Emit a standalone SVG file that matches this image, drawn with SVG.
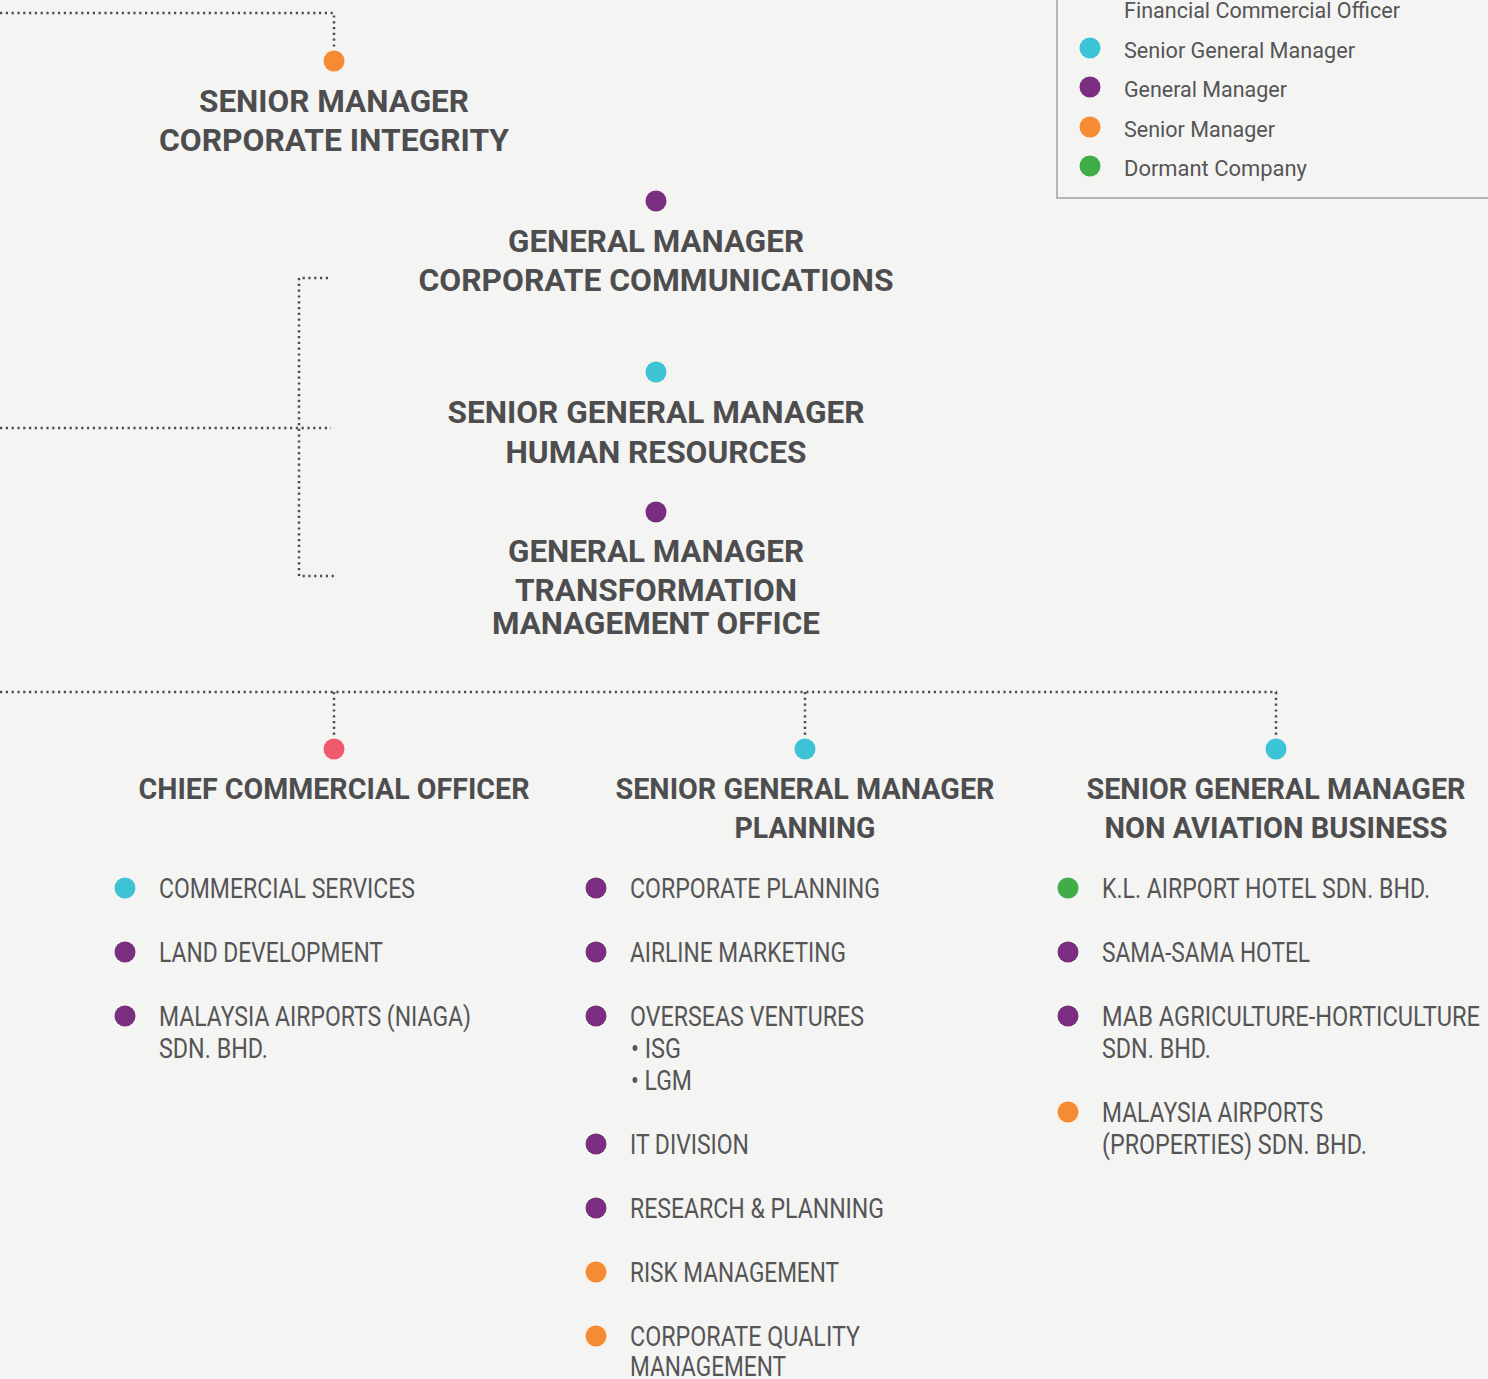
<svg xmlns="http://www.w3.org/2000/svg" width="1488" height="1379" viewBox="0 0 1488 1379">
<style>
.bg{fill:#f4f4f2}
.ln{fill:none;stroke:#4d4d4f;stroke-width:2.5;stroke-dasharray:2.2 3.6}
.h1{font-family:Roboto,"Liberation Sans",sans-serif;font-weight:700;font-size:31px;fill:#4d4d4f;text-anchor:middle}
.h2{font-family:Roboto,"Liberation Sans",sans-serif;font-weight:700;font-size:29px;fill:#4d4d4f;text-anchor:middle}
.it{font-family:Roboto,"Liberation Sans",sans-serif;font-weight:400;font-size:27px;fill:#555557}
.lg{font-family:Roboto,"Liberation Sans",sans-serif;font-weight:400;font-size:22px;fill:#555557}
.cy{fill:#3cc3d6}.pu{fill:#7b2d7f}.or{fill:#f68b33}.gr{fill:#3fae49}.rd{fill:#f05a6e}
</style>
<rect class="bg" x="0" y="0" width="1488" height="1379"/>

<g id="connectors">
<path class="ln" d="M0 13 H334 V48"/>
<path class="ln" d="M0 428 H331"/>
<path class="ln" d="M328 278 H299 V576 H335"/>
<path class="ln" d="M0 692 H1277"/>
<path class="ln" d="M334 692 V737"/>
<path class="ln" d="M805 692 V737"/>
<path class="ln" d="M1276 692 V737"/>
</g>

<g id="legend">
<path d="M1057 0 V198 H1488" fill="none" stroke="#a0a0a0" stroke-width="1.5"/>
<text class="lg" x="1124" y="18" textLength="276" lengthAdjust="spacingAndGlyphs">Financial Commercial Officer</text>
<circle class="cy" cx="1090" cy="48" r="10.5"/>
<text class="lg" x="1124" y="58" textLength="231" lengthAdjust="spacingAndGlyphs">Senior General Manager</text>
<circle class="pu" cx="1090" cy="87" r="10.5"/>
<text class="lg" x="1124" y="97" textLength="163" lengthAdjust="spacingAndGlyphs">General Manager</text>
<circle class="or" cx="1090" cy="127" r="10.5"/>
<text class="lg" x="1124" y="137" textLength="151" lengthAdjust="spacingAndGlyphs">Senior Manager</text>
<circle class="gr" cx="1090" cy="166" r="10.5"/>
<text class="lg" x="1124" y="176" textLength="183" lengthAdjust="spacingAndGlyphs">Dormant Company</text>
</g>

<g id="sm-corporate-integrity">
<circle class="or" cx="334" cy="61" r="10.5"/>
<text class="h1" x="334" y="112" textLength="270" lengthAdjust="spacingAndGlyphs">SENIOR MANAGER</text>
<text class="h1" x="334" y="151" textLength="350" lengthAdjust="spacingAndGlyphs">CORPORATE INTEGRITY</text>
</g>

<g id="gm-corporate-communications">
<circle class="pu" cx="656" cy="201" r="10.5"/>
<text class="h1" x="656" y="252" textLength="296" lengthAdjust="spacingAndGlyphs">GENERAL MANAGER</text>
<text class="h1" x="656" y="291" textLength="475" lengthAdjust="spacingAndGlyphs">CORPORATE COMMUNICATIONS</text>
</g>

<g id="sgm-human-resources">
<circle class="cy" cx="656" cy="372" r="10.5"/>
<text class="h1" x="656" y="423" textLength="417" lengthAdjust="spacingAndGlyphs">SENIOR GENERAL MANAGER</text>
<text class="h1" x="656" y="463" textLength="301" lengthAdjust="spacingAndGlyphs">HUMAN RESOURCES</text>
</g>

<g id="gm-tmo">
<circle class="pu" cx="656" cy="512" r="10.5"/>
<text class="h1" x="656" y="562" textLength="296" lengthAdjust="spacingAndGlyphs">GENERAL MANAGER</text>
<text class="h1" x="656" y="601" font-size="30" textLength="282" lengthAdjust="spacingAndGlyphs">TRANSFORMATION</text>
<text class="h1" x="656" y="634" font-size="30" textLength="328" lengthAdjust="spacingAndGlyphs">MANAGEMENT OFFICE</text>
</g>

<g id="cco">
<circle class="rd" cx="334" cy="749" r="10.5"/>
<text class="h2" x="334" y="799" textLength="391" lengthAdjust="spacingAndGlyphs">CHIEF COMMERCIAL OFFICER</text>
<circle class="cy" cx="125" cy="888" r="10.5"/>
<text class="it" x="159" y="898" textLength="256" lengthAdjust="spacingAndGlyphs">COMMERCIAL SERVICES</text>
<circle class="pu" cx="125" cy="952" r="10.5"/>
<text class="it" x="159" y="962" textLength="224" lengthAdjust="spacingAndGlyphs">LAND DEVELOPMENT</text>
<circle class="pu" cx="125" cy="1016" r="10.5"/>
<text class="it" x="159" y="1026" textLength="312" lengthAdjust="spacingAndGlyphs">MALAYSIA AIRPORTS (NIAGA)</text>
<text class="it" x="159" y="1058" textLength="109" lengthAdjust="spacingAndGlyphs">SDN. BHD.</text>
</g>

<g id="sgm-planning">
<circle class="cy" cx="805" cy="749" r="10.5"/>
<text class="h2" x="805" y="799" textLength="379" lengthAdjust="spacingAndGlyphs">SENIOR GENERAL MANAGER</text>
<text class="h2" x="805" y="838" textLength="141" lengthAdjust="spacingAndGlyphs">PLANNING</text>
<circle class="pu" cx="596" cy="888" r="10.5"/>
<text class="it" x="630" y="898" textLength="250" lengthAdjust="spacingAndGlyphs">CORPORATE PLANNING</text>
<circle class="pu" cx="596" cy="952" r="10.5"/>
<text class="it" x="630" y="962" textLength="216" lengthAdjust="spacingAndGlyphs">AIRLINE MARKETING</text>
<circle class="pu" cx="596" cy="1016" r="10.5"/>
<text class="it" x="630" y="1026" textLength="234" lengthAdjust="spacingAndGlyphs">OVERSEAS VENTURES</text>
<text class="it" x="631" y="1058" textLength="50" lengthAdjust="spacingAndGlyphs">• ISG</text>
<text class="it" x="631" y="1090" textLength="61" lengthAdjust="spacingAndGlyphs">• LGM</text>
<circle class="pu" cx="596" cy="1144" r="10.5"/>
<text class="it" x="630" y="1154" textLength="119" lengthAdjust="spacingAndGlyphs">IT DIVISION</text>
<circle class="pu" cx="596" cy="1208" r="10.5"/>
<text class="it" x="630" y="1218" textLength="254" lengthAdjust="spacingAndGlyphs">RESEARCH &amp; PLANNING</text>
<circle class="or" cx="596" cy="1272" r="10.5"/>
<text class="it" x="630" y="1282" textLength="209" lengthAdjust="spacingAndGlyphs">RISK MANAGEMENT</text>
<circle class="or" cx="596" cy="1336" r="10.5"/>
<text class="it" x="630" y="1346" textLength="230" lengthAdjust="spacingAndGlyphs">CORPORATE QUALITY</text>
<text class="it" x="630" y="1376" textLength="156" lengthAdjust="spacingAndGlyphs">MANAGEMENT</text>
</g>

<g id="sgm-non-aviation">
<circle class="cy" cx="1276" cy="749" r="10.5"/>
<text class="h2" x="1276" y="799" textLength="379" lengthAdjust="spacingAndGlyphs">SENIOR GENERAL MANAGER</text>
<text class="h2" x="1276" y="838" textLength="343" lengthAdjust="spacingAndGlyphs">NON AVIATION BUSINESS</text>
<circle class="gr" cx="1068" cy="888" r="10.5"/>
<text class="it" x="1102" y="898" textLength="328" lengthAdjust="spacingAndGlyphs">K.L. AIRPORT HOTEL SDN. BHD.</text>
<circle class="pu" cx="1068" cy="952" r="10.5"/>
<text class="it" x="1102" y="962" textLength="208" lengthAdjust="spacingAndGlyphs">SAMA-SAMA HOTEL</text>
<circle class="pu" cx="1068" cy="1016" r="10.5"/>
<text class="it" x="1102" y="1026" textLength="378" lengthAdjust="spacingAndGlyphs">MAB AGRICULTURE-HORTICULTURE</text>
<text class="it" x="1102" y="1058" textLength="109" lengthAdjust="spacingAndGlyphs">SDN. BHD.</text>
<circle class="or" cx="1068" cy="1112" r="10.5"/>
<text class="it" x="1102" y="1122" textLength="221" lengthAdjust="spacingAndGlyphs">MALAYSIA AIRPORTS</text>
<text class="it" x="1102" y="1154" textLength="265" lengthAdjust="spacingAndGlyphs">(PROPERTIES) SDN. BHD.</text>
</g>
</svg>
